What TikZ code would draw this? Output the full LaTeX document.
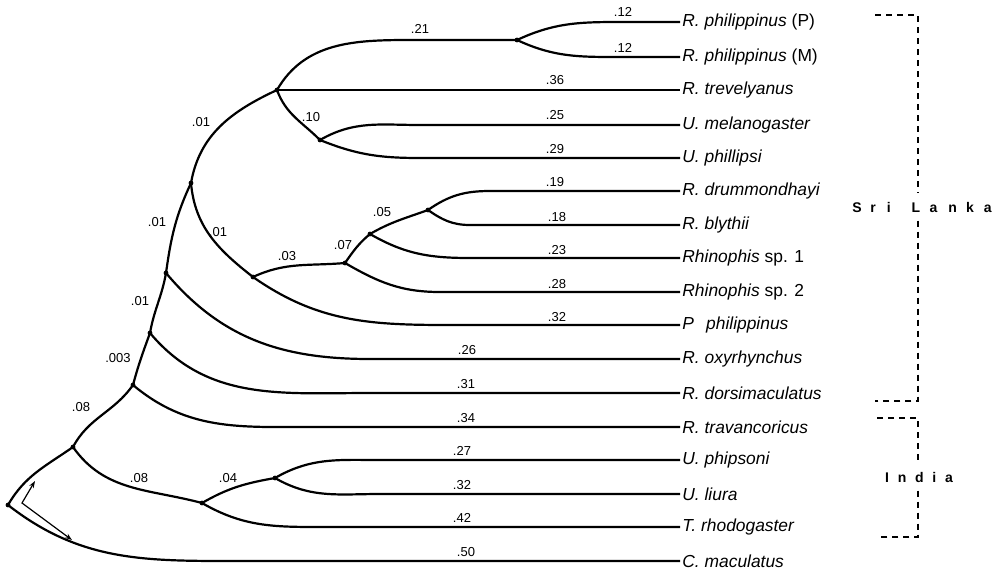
\documentclass[tikz,border=0pt]{standalone}
\usepackage{fontspec}
\setmainfont{Liberation Sans}
\usetikzlibrary{arrows.meta}

\begin{document}
\begin{tikzpicture}[
    x=0.5pt, y=0.5pt,
    branch/.style={line width=1.1pt},
    junction/.style={fill, circle, inner sep=0pt, minimum size=2.4pt},
    taxon/.style={anchor=west, inner sep=1pt, font=\fontsize{8.7}{10}\selectfont\itshape},
    blen/.style={inner sep=0pt, font=\fontsize{6.5}{7}\selectfont},
    region/.style={inner sep=4pt, font=\fontsize{7}{8}\selectfont\bfseries},
    bracket/.style={line width=0.6pt, dash pattern=on 3pt off 2.5pt},
    turn/.style={line width=0.6pt, {Stealth[length=3.5pt,width=2.5pt]}-{Stealth[length=3.5pt,width=2.5pt]}}
    ]
    \useasboundingbox (0,0) rectangle (1000,-573);

    % taxa
    \node[taxon] (pipP) at (680,-22) {R. philippinus \textup{(P)}};
    \node[taxon] (pipM) at (680,-57) {R. philippinus \textup{(M)}};
    \node[taxon] (trev) at (680,-90) {R. trevelyanus};
    \node[taxon] (mela) at (680,-125) {U. melanogaster};
    \node[taxon] (phil) at (680,-158) {U. phillipsi};
    \node[taxon] (drum) at (680,-191) {R. drummondhayi};
    \node[taxon] (blyt) at (680,-225) {R. blythii};
    \node[taxon] (rsp1) at (680,-258) {Rhinophis \textup{sp. 1}};
    \node[taxon] (rsp2) at (680,-292) {Rhinophis \textup{sp. 2}};
    \node[taxon] (pphil) at (680,-325) {P\hspace{0.7em}philippinus};
    \node[taxon] (oxyr) at (680,-359) {R. oxyrhynchus};
    \node[taxon] (dors) at (680,-393) {R. dorsimaculatus};
    \node[taxon] (trav) at (680,-427) {R. travancoricus};
    \node[taxon] (phip) at (680,-460) {U. phipsoni};
    \node[taxon] (liur) at (680,-494) {U. liura};
    \node[taxon] (rhod) at (680,-527) {T. rhodogaster};
    \node[taxon] (cmac) at (680,-561) {C. maculatus};

    % internal nodes
    \coordinate (root) at (8,-505);
    \coordinate (n1) at (73,-447);
    \coordinate (nInd) at (202,-503);
    \coordinate (nUU) at (275,-478);
    \coordinate (n2) at (133,-385);
    \coordinate (n3) at (150,-333);
    \coordinate (n4) at (166,-273);
    \coordinate (n5) at (191,-183);
    \coordinate (n6) at (277,-90);
    \coordinate (nRp) at (517,-40);
    \coordinate (nUm) at (320,-140);
    \coordinate (n7) at (253,-277);
    \coordinate (n8) at (345,-263);
    \coordinate (n9) at (370,-234);
    \coordinate (n10) at (428,-210);

    % branches
    \draw[branch] (root) to[out=60,in=215] (n1);
    \draw[branch] (root) to[out=-38,in=180] (230,0 |- cmac.west) -- (cmac.west);
    \draw[branch] (n1) to[out=62,in=235] (n2);
    \draw[branch] (n1) to[out=-55,in=165] (nInd);
    \draw[branch] (nInd) to[out=30,in=190] (nUU);
    \draw[branch] (nInd) to[out=-30,in=180] (320,0 |- rhod.west) -- (rhod.west);
    \draw[branch] (nUU) to[out=30,in=180] (380,0 |- phip.west) -- (phip.west);
    \draw[branch] (nUU) to[out=-30,in=180] (380,0 |- liur.west) -- (liur.west);
    \draw[branch] (n2) to[out=75,in=250] (n3);
    \draw[branch] (n2) to[out=-40,in=180] (310,0 |- trav.west) -- (trav.west);
    \draw[branch] (n3) to[out=80,in=260] (n4);
    \draw[branch] (n3) to[out=-50,in=180] (370,0 |- dors.west) -- (dors.west);
    \draw[branch] (n4) to[out=82,in=245] (n5);
    \draw[branch] (n4) to[out=-50,in=180] (370,0 |- oxyr.west) -- (oxyr.west);
    \draw[branch] (n5) to[out=80,in=205] (n6);
    \draw[branch] (n5) to[out=-85,in=142] (n7);
    \draw[branch] (n7) to[out=-35,in=180] (450,0 |- pphil.west) -- (pphil.west);
    \draw[branch] (n7) to[out=25,in=185] (n8);
    \draw[branch] (n8) to[out=55,in=220] (n9);
    \draw[branch] (n8) to[out=-30,in=180] (440,0 |- rsp2.west) -- (rsp2.west);
    \draw[branch] (n9) to[out=30,in=200] (n10);
    \draw[branch] (n9) to[out=-30,in=180] (470,0 |- rsp1.west) -- (rsp1.west);
    \draw[branch] (n10) to[out=35,in=180] (490,0 |- drum.west) -- (drum.west);
    \draw[branch] (n10) to[out=-35,in=180] (470,0 |- blyt.west) -- (blyt.west);
    \draw[branch] (n6) to[out=60,in=180] (410,0 |- nRp) -- (nRp);
    \draw[branch] (n6) -- (trev.west);
    \draw[branch] (n6) to[out=-70,in=135] (nUm);
    \draw[branch] (nRp) to[out=25,in=180] (620,0 |- pipP.west) -- (pipP.west);
    \draw[branch] (nRp) to[out=-25,in=180] (620,0 |- pipM.west) -- (pipM.west);
    \draw[branch] (nUm) to[out=30,in=180] (420,0 |- mela.west) -- (mela.west);
    \draw[branch] (nUm) to[out=-22,in=180] (420,0 |- phil.west) -- (phil.west);

    \foreach \j in {root,n1,nInd,nUU,n2,n3,n4,n5,n6,nRp,nUm,n7,n8,n9,n10}
      \node[junction] at (\j) {};

    % branch lengths
    \node[blen] (l21) at (420,-29) {.21};
    \node[blen] (l12a) at (623,-12) {.12};
    \node[blen] (l12b) at (623,-48) {.12};
    \node[blen] (l36) at (555,-80) {.36};
    \node[blen] (l25) at (555,-115) {.25};
    \node[blen] (l29) at (555,-149) {.29};
    \node[blen] (l19) at (555,-182) {.19};
    \node[blen] (l18) at (557,-217) {.18};
    \node[blen] (l23) at (557,-250) {.23};
    \node[blen] (l28) at (557,-284) {.28};
    \node[blen] (l32a) at (557,-317) {.32};
    \node[blen] (l26) at (467,-350) {.26};
    \node[blen] (l31) at (466,-384) {.31};
    \node[blen] (l34) at (466,-418) {.34};
    \node[blen] (l27) at (462,-451) {.27};
    \node[blen] (l32b) at (462,-485) {.32};
    \node[blen] (l42) at (462,-518) {.42};
    \node[blen] (l50) at (466,-552) {.50};
    \node[blen] (l10) at (311,-117) {.10};
    \node[blen] (l01a) at (201,-122) {.01};
    \node[blen] (l01b) at (157,-222) {.01};
    \node[blen] (l01c) at (218,-232) {.01};
    \node[blen] (l01d) at (140,-301) {.01};
    \node[blen] (l03) at (287,-256) {.03};
    \node[blen] (l07) at (343,-245) {.07};
    \node[blen] (l05) at (382,-212) {.05};
    \node[blen] (l003) at (118,-358) {.003};
    \node[blen] (l08a) at (81,-407) {.08};
    \node[blen] (l08b) at (139,-478) {.08};
    \node[blen] (l04) at (228,-478) {.04};

    % rotation arrow at the root
    \coordinate (rotA) at (35,-481);
    \coordinate (rotB) at (22,-503);
    \coordinate (rotC) at (72,-540);
    \draw[turn] (rotA) -- (rotB) -- (rotC);

    % regions
    \node[region] (srl) at (922,-207) {S\hskip4.3pt r\hskip5.5pt i\hskip10.5pt L\hskip4.7pt a\hskip5.5pt n\hskip4.5pt k\hskip5pt a};
    \node[region] (ind) at (919,-477) {I\hskip4.4pt n\hskip4.4pt d\hskip4.4pt i\hskip4.4pt a};
    \draw[bracket] (875,-15) -- (918,-15) -- (918,0 |- srl.north);
    \draw[bracket] (918,0 |- srl.south) -- (918,-401) -- (875,-401);
    \draw[bracket] (877,-418) -- (918,-418) -- (918,0 |- ind.north);
    \draw[bracket] (918,0 |- ind.south) -- (918,-537) -- (877,-537);
\end{tikzpicture}
\end{document}
